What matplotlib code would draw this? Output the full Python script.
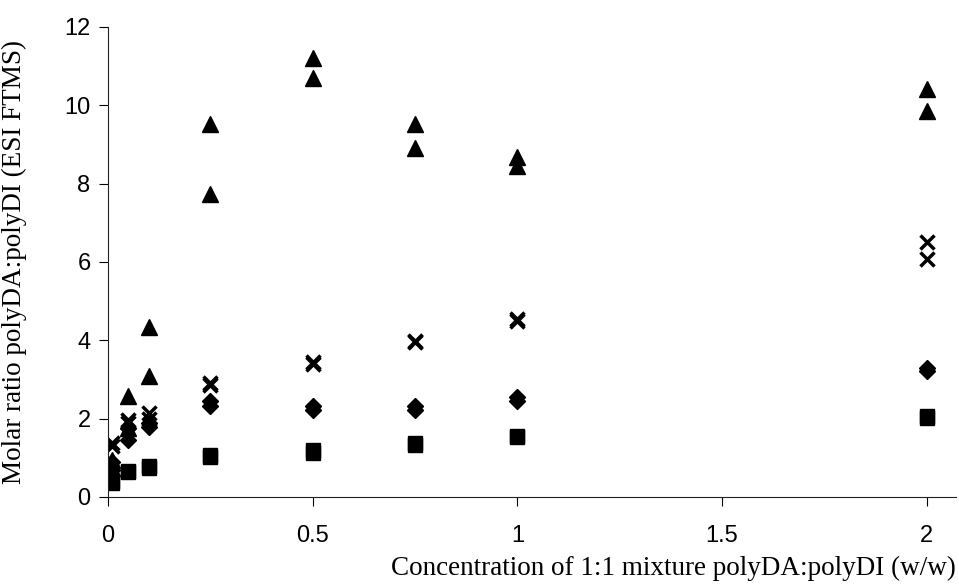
import matplotlib
matplotlib.use("Agg")
from matplotlib import pyplot as plt

conc = [0.01, 0.05, 0.1, 0.25, 0.5, 0.75, 1, 2]

# two measurements per concentration, one marker type per series
tri_a = [0.95, 2.58, 4.34, 9.53, 11.2, 9.52, 8.68, 10.42]
tri_b = [0.75, 1.75, 3.09, 7.74, 10.70, 8.91, 8.45, 9.86]
cross_a = [1.38, 1.97, 2.14, 2.91, 3.45, 3.98, 4.55, 6.51]
cross_b = [1.30, 1.90, 2.00, 2.85, 3.40, 3.95, 4.50, 6.08]
diam_a = [0.90, 1.75, 1.90, 2.45, 2.32, 2.32, 2.55, 3.28]
diam_b = [0.70, 1.45, 1.78, 2.33, 2.22, 2.22, 2.45, 3.22]
sq_a = [0.40, 0.67, 0.80, 1.06, 1.20, 1.38, 1.55, 2.06]
sq_b = [0.35, 0.65, 0.75, 1.03, 1.13, 1.32, 1.53, 2.02]

fig = plt.figure(figsize=(9.59, 5.84), dpi=100)
ax = fig.add_axes([0.1126, 0.149, 0.884, 0.805])

for ys in (sq_a, sq_b):
    ax.plot(conc, ys, ls="none", marker="s", ms=10.5, color="black")
for ys in (diam_a, diam_b):
    ax.plot(conc, ys, ls="none", marker="D", ms=8.5, color="black")
for ys in (tri_a, tri_b):
    ax.plot(conc, ys, ls="none", marker="^", ms=11, color="black")
for ys in (cross_a, cross_b):
    ax.plot(conc, ys, ls="none", marker="x", ms=10, mew=2.5, color="black")

ax.set_xlim(0, 2.071)
ax.set_ylim(0, 12)
ax.set_xticks([0, 0.5, 1, 1.5, 2])
ax.set_xticklabels(["0", "0.5", "1", "1.5", "2"])
ax.set_yticks(range(0, 13, 2))

ax.spines["top"].set_visible(False)
ax.spines["right"].set_visible(False)
ax.spines["left"].set_color("#222222")
ax.spines["bottom"].set_color("#222222")
ax.tick_params(axis="x", length=6.5, pad=14, labelsize=17)
ax.tick_params(axis="y", length=6.5, pad=6, labelsize=17)
for lab in ax.get_xticklabels() + ax.get_yticklabels():
    lab.set_family("Liberation Sans")

ax.set_xlabel("Concentration of 1:1 mixture polyDA:polyDI (w/w)",
              family="Liberation Serif", fontsize=19.5, ha="right")
ax.set_ylabel("Molar ratio polyDA:polyDI (ESI FTMS)",
              family="Liberation Serif", fontsize=19.5)
ax.xaxis.set_label_coords(1.0, -0.125)
ax.yaxis.set_label_coords(-0.096, 0.5)

fig.savefig("out.png", dpi=100)
